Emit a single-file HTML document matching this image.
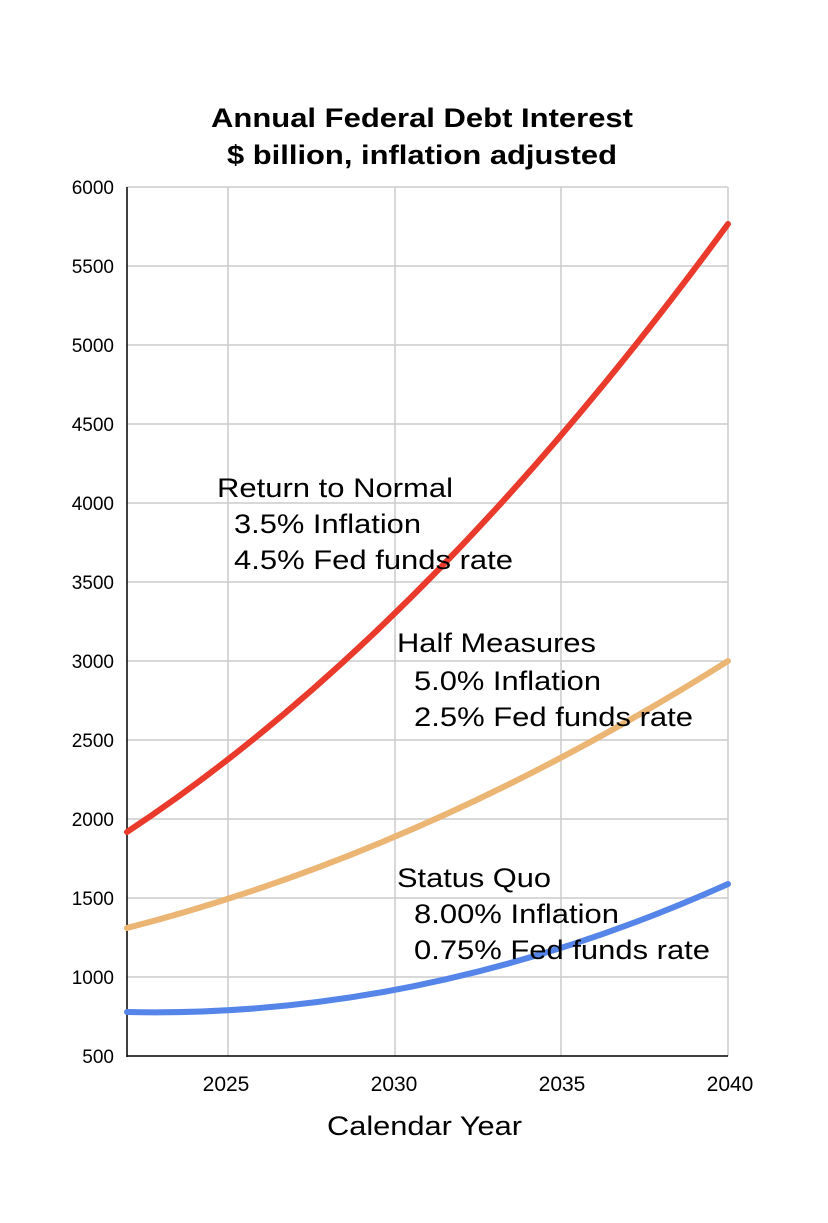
<!DOCTYPE html>
<html><head><style>body{margin:0;background:#fff}</style></head><body>
<svg width="828" height="1218" xmlns="http://www.w3.org/2000/svg" font-family="Liberation Sans, Arial, sans-serif">
<rect width="828" height="1218" fill="#fff"/>
<g stroke="#ccc" stroke-width="1.5">
<line x1="127" y1="187" x2="728" y2="187"/><line x1="127" y1="266" x2="728" y2="266"/><line x1="127" y1="345" x2="728" y2="345"/><line x1="127" y1="424" x2="728" y2="424"/><line x1="127" y1="503" x2="728" y2="503"/><line x1="127" y1="582" x2="728" y2="582"/><line x1="127" y1="661" x2="728" y2="661"/><line x1="127" y1="740" x2="728" y2="740"/><line x1="127" y1="819" x2="728" y2="819"/><line x1="127" y1="898" x2="728" y2="898"/><line x1="127" y1="977" x2="728" y2="977"/>
<line x1="228" y1="187" x2="228" y2="1056"/><line x1="395" y1="187" x2="395" y2="1056"/><line x1="561" y1="187" x2="561" y2="1056"/><line x1="728" y1="187" x2="728" y2="1056"/>
</g>
<line x1="127" y1="187" x2="127" y2="1057" stroke="#000" stroke-width="1.5"/>
<line x1="127" y1="1056" x2="728" y2="1056" stroke="#000" stroke-width="1.5"/>
<g font-size="19" text-anchor="end" fill="#000">
<text x="114" y="194">6000</text><text x="114" y="273">5500</text><text x="114" y="352">5000</text><text x="114" y="431">4500</text><text x="114" y="510">4000</text><text x="114" y="589">3500</text><text x="114" y="668">3000</text><text x="114" y="747">2500</text><text x="114" y="826">2000</text><text x="114" y="905">1500</text><text x="114" y="984">1000</text><text x="114" y="1063">500</text>
</g>
<g font-size="21" text-anchor="middle"><text x="226" y="1091">2025</text><text x="394" y="1091">2030</text><text x="562" y="1091">2035</text><text x="730" y="1091">2040</text></g>
<text x="327" y="1135" font-size="27" textLength="195" lengthAdjust="spacingAndGlyphs">Calendar Year</text>
<g font-size="27" font-weight="bold">
<text x="211" y="127" textLength="422" lengthAdjust="spacingAndGlyphs">Annual Federal Debt Interest</text>
<text x="227" y="164" textLength="390" lengthAdjust="spacingAndGlyphs">$ billion, inflation adjusted</text></g>
<g fill="none" stroke-width="6" stroke-linecap="round">
<path stroke="#e93a2c" d="M127,832 Q427.5,633.7 728,224"/>
<path stroke="#ebb574" d="M127,928 Q427.5,850.5 728,661"/>
<path stroke="#5585e8" d="M127,1012 Q427.5,1018.7 728,884"/>
</g>
<g font-size="27">
<text x="217" y="497" textLength="236" lengthAdjust="spacingAndGlyphs">Return to Normal</text>
<text x="234" y="533" textLength="187" lengthAdjust="spacingAndGlyphs">3.5% Inflation</text>
<text x="234" y="569" textLength="279" lengthAdjust="spacingAndGlyphs">4.5% Fed funds rate</text>
<text x="397" y="652" textLength="199" lengthAdjust="spacingAndGlyphs">Half Measures</text>
<text x="414" y="690" textLength="187" lengthAdjust="spacingAndGlyphs">5.0% Inflation</text>
<text x="414" y="726" textLength="279" lengthAdjust="spacingAndGlyphs">2.5% Fed funds rate</text>
<text x="397" y="887" textLength="154" lengthAdjust="spacingAndGlyphs">Status Quo</text>
<text x="414" y="923" textLength="205" lengthAdjust="spacingAndGlyphs">8.00% Inflation</text>
<text x="414" y="959" textLength="296" lengthAdjust="spacingAndGlyphs">0.75% Fed funds rate</text>
</g>
</svg>
</body></html>
